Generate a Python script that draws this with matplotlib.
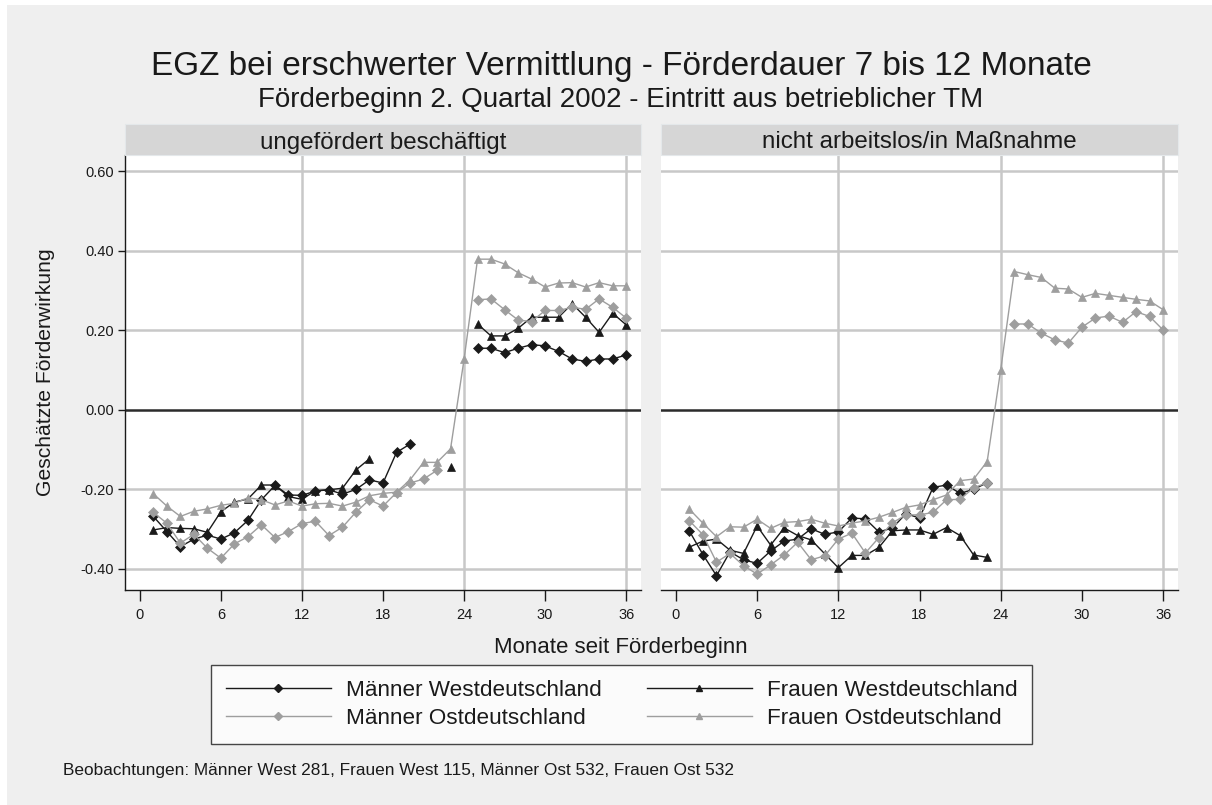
import numpy as np
import matplotlib
matplotlib.use("Agg")
import matplotlib.pyplot as plt
from matplotlib.lines import Line2D
from matplotlib.patches import Rectangle

plt.rcParams['font.family'] = ['Liberation Sans', 'DejaVu Sans']

nan = np.nan
months = np.arange(1, 37)

panel_titles = ["ungefördert beschäftigt", "nicht arbeitslos/in Maßnahme"]
series_labels = ["Männer Westdeutschland", "Frauen Westdeutschland",
                 "Männer Ostdeutschland", "Frauen Ostdeutschland"]

# --- ungefördert beschäftigt ---
emp_mw = [-0.268, -0.306, -0.344, -0.325, -0.315, -0.325, -0.309, -0.278, -0.226, -0.190,
          -0.214, -0.215, -0.204, -0.201, -0.212, -0.200, -0.176, -0.184, -0.107, -0.086,
          nan, nan, nan, nan,
          0.155, 0.155, 0.144, 0.155, 0.164, 0.161, 0.147, 0.128, 0.122, 0.128, 0.128, 0.138]
emp_fw = [-0.302, -0.296, -0.298, -0.299, -0.308, -0.256, -0.232, -0.224, -0.189, -0.189,
          -0.218, -0.225, -0.203, -0.201, -0.197, -0.151, -0.123,
          nan, nan, nan, nan, nan, -0.143, nan,
          0.216, 0.186, 0.186, 0.205, 0.233, 0.233, 0.233, 0.267, 0.233, 0.195, 0.243, 0.214]
emp_mo = [-0.258, -0.285, -0.335, -0.313, -0.348, -0.373, -0.337, -0.319, -0.289, -0.321,
          -0.306, -0.286, -0.280, -0.316, -0.295, -0.257, -0.226, -0.242, -0.208, -0.184,
          -0.174, -0.152, nan, nan,
          0.277, 0.279, 0.252, 0.226, 0.222, 0.250, 0.250, 0.258, 0.253, 0.279, 0.258, 0.231]
emp_fo = [-0.211, -0.242, -0.268, -0.255, -0.249, -0.240, -0.235, -0.221, -0.226, -0.239,
          -0.229, -0.242, -0.236, -0.235, -0.242, -0.232, -0.216, -0.210, -0.207, -0.176,
          -0.132, -0.132, -0.098, 0.127,
          0.379, 0.379, 0.367, 0.345, 0.329, 0.309, 0.319, 0.320, 0.309, 0.320, 0.312, 0.312]

# --- nicht arbeitslos/in Maßnahme ---
nal_mw = [-0.305, -0.364, -0.417, -0.357, -0.377, -0.386, -0.355, -0.330, -0.325, -0.299,
          -0.313, -0.307, -0.272, -0.274, -0.307, -0.297, -0.261, -0.272, -0.195, -0.189,
          -0.210, -0.200, -0.183,
          nan, nan, nan, nan, nan, nan, nan, nan, nan, nan, nan, nan, nan]
nal_fw = [-0.345, -0.330, -0.325, -0.353, -0.361, -0.292, -0.340, -0.297, -0.316, -0.327,
          -0.362, -0.397, -0.366, -0.366, -0.346, -0.304, -0.302, -0.302, -0.313, -0.296,
          -0.316, -0.365, -0.371,
          nan, nan, nan, nan, nan, nan, nan, nan, nan, nan, nan, nan, nan]
nal_mo = [-0.279, -0.314, -0.383, -0.361, -0.392, -0.413, -0.390, -0.365, -0.333, -0.377,
          -0.367, -0.325, -0.310, -0.360, -0.321, -0.284, -0.264, -0.264, -0.258, -0.226,
          -0.225, -0.196, -0.183, nan,
          0.216, 0.216, 0.193, 0.176, 0.168, 0.208, 0.231, 0.236, 0.220, 0.247, 0.235, 0.201]
nal_fo = [-0.250, -0.285, -0.319, -0.294, -0.295, -0.275, -0.298, -0.283, -0.281, -0.275,
          -0.285, -0.292, -0.285, -0.279, -0.270, -0.258, -0.245, -0.239, -0.226, -0.214,
          -0.178, -0.174, -0.130, 0.101,
          0.348, 0.340, 0.333, 0.306, 0.304, 0.283, 0.293, 0.288, 0.283, 0.278, 0.274, 0.252]

panels = [[emp_mw, emp_fw, emp_mo, emp_fo],
          [nal_mw, nal_fw, nal_mo, nal_fo]]

x_ticks = [0, 6, 12, 18, 24, 30, 36]
y_ticks = [-0.40, -0.20, 0.00, 0.20, 0.40, 0.60]
v_grid = [12, 24, 36]

BLACK = "#1a1a1a"
GREY = "#9e9e9e"
styles = [dict(color=BLACK, marker="D", ms=4.6),
          dict(color=BLACK, marker="^", ms=6.0),
          dict(color=GREY, marker="D", ms=4.6),
          dict(color=GREY, marker="^", ms=6.0)]

W, H = 1212, 805
fig = plt.figure(figsize=(W / 100, H / 100), dpi=100, facecolor="white")

# light grey graph region
fig.patches.append(Rectangle((7 / W, 0), 1 - 7 / W, 1 - 5 / H, transform=fig.transFigure,
                             facecolor="#efefef", edgecolor="none", zorder=-10))

def px_box(x0, y0, x1, y1):
    return [x0 / W, 1 - y1 / H, (x1 - x0) / W, (y1 - y0) / H]

axes = [fig.add_axes(px_box(125, 155, 641, 590)),
        fig.add_axes(px_box(661, 155, 1178, 590))]

for i, (ax, data) in enumerate(zip(axes, panels)):
    ax.set_facecolor("white")
    ax.set_xlim(-1.1, 37.1)
    ax.set_ylim(-0.453, 0.641)
    for yv in y_ticks:
        if yv == 0:
            ax.axhline(yv, color="#2b2b2b", lw=1.8, zorder=1)
        else:
            ax.axhline(yv, color="#c8c8c8", lw=1.8, zorder=0)
    for xv in v_grid:
        ax.axvline(xv, color="#c8c8c8", lw=1.8, zorder=0)
    for vals, st in zip(data, styles):
        ax.plot(months, vals, color=st["color"], lw=1.0, marker=st["marker"],
                ms=st["ms"], mfc=st["color"], mec=st["color"], mew=0.5, zorder=3)
    ax.set_xticks(x_ticks)
    ax.set_xticklabels([str(t) for t in x_ticks], fontsize=10.5)
    ax.tick_params(axis="x", direction="out", length=8, width=1, pad=5, colors=BLACK)
    for s in ("top", "right"):
        ax.spines[s].set_visible(False)
    ax.spines["bottom"].set_color(BLACK)
    ax.spines["bottom"].set_linewidth(1.0)
    if i == 0:
        ax.set_yticks(y_ticks)
        ax.set_yticklabels([f"{v:.2f}" for v in y_ticks], fontsize=10.5)
        ax.tick_params(axis="y", direction="out", length=5, width=1, pad=3, colors=BLACK)
        ax.spines["left"].set_color(BLACK)
        ax.spines["left"].set_linewidth(1.0)
    else:
        ax.set_yticks([])
        ax.spines["left"].set_visible(False)
    # panel header strip
    strip_h = 31 / 435
    ax.add_patch(Rectangle((0, 1), 1, strip_h, transform=ax.transAxes, clip_on=False,
                           facecolor="#d6d6d6", edgecolor="#e4e8ea", lw=0.8, zorder=5))
    ax.text(0.5, 1 + strip_h / 2 - 3 / 435, panel_titles[i], transform=ax.transAxes,
            ha="center", va="center", fontsize=17.4, color=BLACK, zorder=6)

cx = 621 / W
fig.text(cx, 1 - 66 / H, "EGZ bei erschwerter Vermittlung - Förderdauer 7 bis 12 Monate",
         ha="center", va="center", fontsize=24, color=BLACK)
fig.text(cx, 1 - 100 / H, "Förderbeginn 2. Quartal 2002 - Eintritt aus betrieblicher TM",
         ha="center", va="center", fontsize=20, color=BLACK)
fig.text(cx, 1 - 647 / H, "Monate seit Förderbeginn", ha="center", va="center",
         fontsize=16, color=BLACK)
fig.text(46 / W, 1 - 372 / H, "Geschätzte Förderwirkung", ha="center", va="center",
         rotation=90, fontsize=15.2, color=BLACK)
fig.text(63 / W, 1 - 770 / H,
         "Beobachtungen: Männer West 281, Frauen West 115, Männer Ost 532, Frauen Ost 532",
         ha="left", va="center", fontsize=12.4, color=BLACK)

handles = [Line2D([], [], color=st["color"], lw=1.0, marker=st["marker"],
                  ms=st["ms"] * 0.8, mfc=st["color"], mec=st["color"]) for st in styles]
order = [0, 2, 1, 3]
leg = fig.legend([handles[k] for k in order], [series_labels[k] for k in order],
                 loc="center", bbox_to_anchor=(621.5 / W, 1 - 704.5 / H), ncol=2,
                 fontsize=16.2, frameon=True, fancybox=False, handlelength=4.67,
                 handletextpad=0.67, columnspacing=2.0, labelspacing=0.33,
                 borderpad=0.65, borderaxespad=0)
leg.get_frame().set_edgecolor(BLACK)
leg.get_frame().set_linewidth(1.0)
leg.get_frame().set_facecolor("white")
for t in leg.get_texts():
    t.set_color(BLACK)

fig.savefig("out.png", dpi=100, facecolor=fig.get_facecolor())
